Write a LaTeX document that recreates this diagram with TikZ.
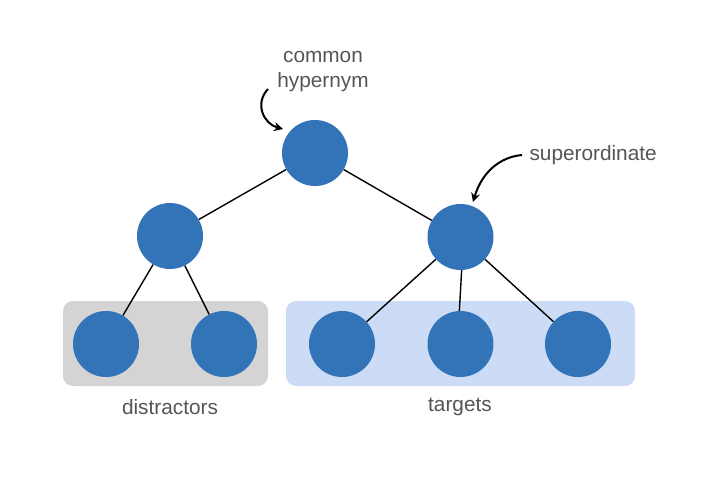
\documentclass[tikz,border=0pt]{standalone}
\usepackage{fontspec}
\setmainfont{Liberation Sans}
\usetikzlibrary{arrows.meta}
\definecolor{nodeblue}{HTML}{3374B8}
\definecolor{boxgray}{HTML}{D4D4D4}
\definecolor{boxblue}{HTML}{CCDCF6}
\definecolor{txtgray}{HTML}{555555}
\tikzset{
  circ/.style={circle, fill=nodeblue, minimum size=66pt, inner sep=0pt},
  lbl/.style={text=txtgray, font=\fontsize{20.8}{25}\selectfont, align=center},
  edge/.style={line width=1.4pt},
  pointer/.style={line width=2pt, -{Stealth[length=9pt,width=9pt]}},
}
\begin{document}
\begin{tikzpicture}[x=1pt,y=-1pt]
\useasboundingbox (0,0) rectangle (704,482);
\fill[boxgray, rounded corners=10pt] (63,301) rectangle (268,386);
\fill[boxblue, rounded corners=10pt] (286,301) rectangle (635,386);
\node[circ] (top) at (315,153) {};
\node[circ] (ml) at (170,236) {};
\node[circ] (mr) at (460.5,237) {};
\node[circ] (b1) at (106,344) {};
\node[circ] (b2) at (224,344) {};
\node[circ] (b3) at (342,344) {};
\node[circ] (b4) at (460.5,344) {};
\node[circ] (b5) at (578,344) {};
\draw[edge] (top) -- (ml);
\draw[edge] (top) -- (mr);
\draw[edge] (ml) -- (b1);
\draw[edge] (ml) -- (b2);
\draw[edge] (mr) -- (b3);
\draw[edge] (mr.-88) -- (b4.92);
\draw[edge] (mr) -- (b5);
\node[lbl] (hyp) at (323,72) {common\\hypernym};
\node[lbl, anchor=west] (sup) at (526,155) {superordinate};
\node[lbl] (dis) at (170,407) {distractors};
\node[lbl] (tar) at (460,407) {targets};
\coordinate (hs) at (268,89);
\coordinate (ss) at (522,155);
\draw[pointer] (hs) .. controls (254,104) and (264,124) .. (283,129);
\draw[pointer] (ss) .. controls (500,157) and (482,172) .. (473,202);
\end{tikzpicture}
\end{document}
